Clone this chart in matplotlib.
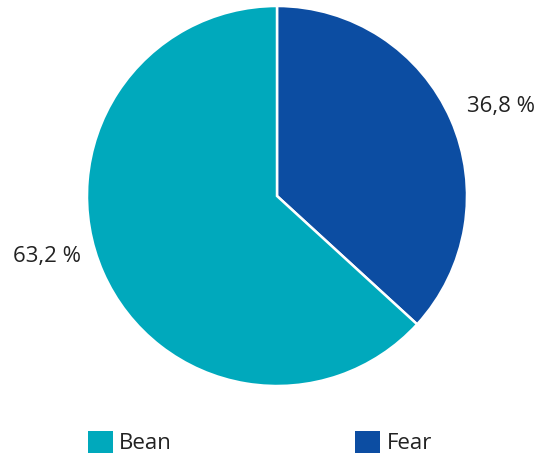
import matplotlib.pyplot as plt
from matplotlib.patches import Patch

labels = ['Fear', 'Bean']
shares = [36.8, 63.2]
colors = ['#0C4DA2', '#00A9BC']
pct_text = ['36,8 %', '63,2 %']

plt.rcParams['font.family'] = ['Open Sans', 'DejaVu Sans']

fig = plt.figure(figsize=(5.41, 4.58), dpi=100)
ax = fig.add_axes([87 / 541, 72 / 458, 380 / 541, 380 / 458])

wedges, _ = ax.pie(shares, colors=colors, startangle=90, counterclock=False,
                   radius=1, wedgeprops=dict(edgecolor='white', linewidth=1.8))
ax.set_xlim(-1, 1)
ax.set_ylim(-1, 1)
ax.set_aspect('equal')

# percentage labels outside the pie
ax.text(1.18, 0.47, pct_text[0], ha='center', va='center', fontsize=16, color='#222222')
ax.text(-1.21, -0.32, pct_text[1], ha='center', va='center', fontsize=16, color='#222222')

handles = [Patch(facecolor=colors[1], label=labels[1]),
           Patch(facecolor=colors[0], label=labels[0])]
fig.legend(handles=handles, ncol=2, loc='lower left', bbox_to_anchor=(0.126, -0.036),
           frameon=False, fontsize=16, handlelength=1.1, handleheight=1.1,
           handletextpad=0.3, columnspacing=8.25, labelcolor='#222222')

fig.savefig('out.png', dpi=100)
